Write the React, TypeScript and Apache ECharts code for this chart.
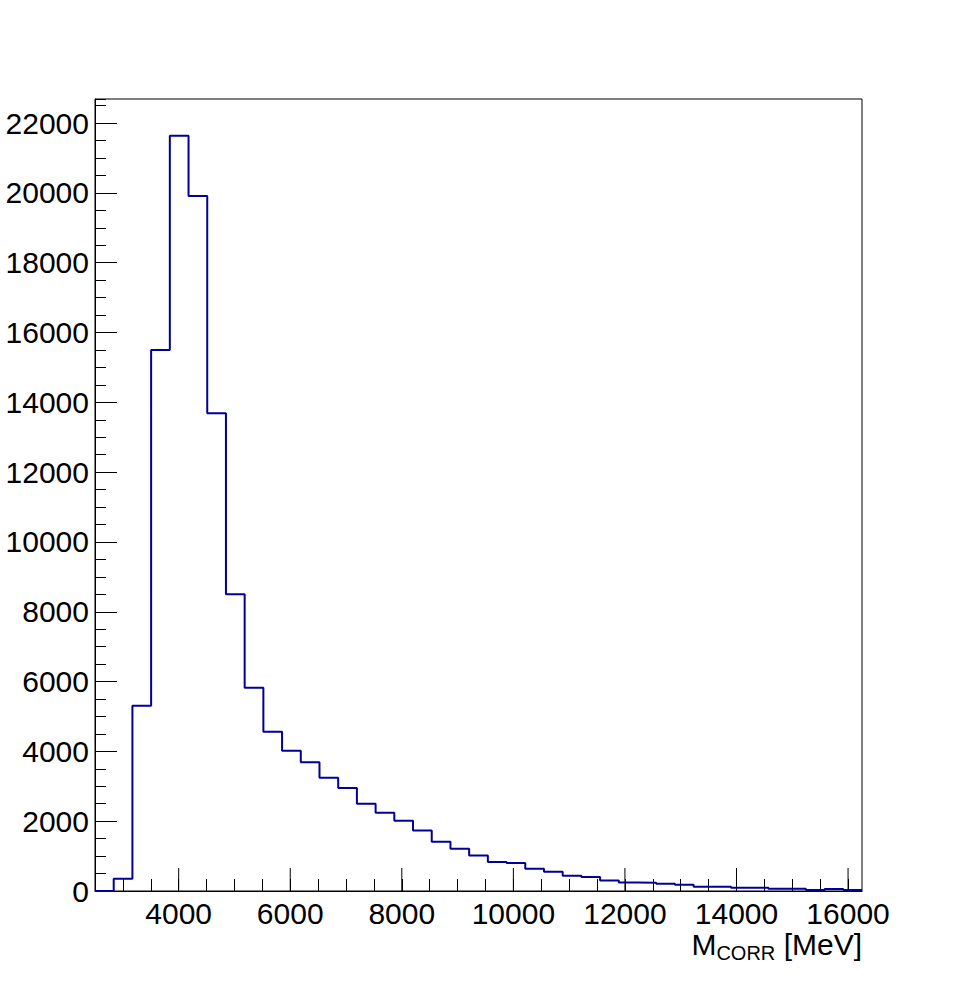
import React, { useEffect, useRef } from "react";
import * as echarts from "echarts";

// Histogram binning (MeV)
const binMin = 2500;
const binMax = 16250;
const binCounts = [
  0, 350, 5310, 15500, 21640, 19910, 13690, 8500, 5820, 4560,
  4015, 3690, 3245, 2950, 2500, 2245, 2015, 1730, 1410, 1210,
  1015, 830, 800, 640, 550, 440, 400, 300, 240, 235,
  210, 180, 125, 120, 95, 92, 66, 64, 30, 57,
  30,
];
const xMajorTicks = [4000, 6000, 8000, 10000, 12000, 14000, 16000];
const yMax = 22690;
const titleMain = "M";
const titleSub = "CORR";
const titleUnit = " [MeV]";

const FONT = "'Liberation Sans', Arial, Helvetica, sans-serif";

function measure(text: string, size: number): number {
  const c = document.createElement("canvas");
  const ctx = c.getContext("2d");
  if (!ctx) return text.length * size * 0.6;
  ctx.font = `${size}px ${FONT}`;
  return ctx.measureText(text).width;
}

export default function App() {
  const ref = useRef<HTMLDivElement>(null);

  useEffect(() => {
    if (!ref.current) return;
    const chart = echarts.init(ref.current, null, { renderer: "svg" });

    const nb = binCounts.length;
    const w = (binMax - binMin) / nb;
    const pts: number[][] = [];
    binCounts.forEach((v, i) => {
      pts.push([binMin + i * w, v]);
      pts.push([binMin + (i + 1) * w, v]);
    });

    const mainSize = 30;
    const subSize = 20;
    const right = 862;
    const wUnit = measure(titleUnit, mainSize);
    const wSub = measure(titleSub, subSize);
    const xUnit = right - wUnit;
    const xSub = xUnit - wSub;

    chart.setOption({
      animation: false,
      backgroundColor: "#ffffff",
      grid: {
        left: 95,
        right: 96,
        top: 99,
        bottom: 100,
        show: true,
        borderColor: "#000",
        borderWidth: 1,
        backgroundColor: "transparent",
      },
      xAxis: [
        {
          type: "value",
          min: binMin,
          max: binMax,
          interval: 500,
          axisLine: { show: true, onZero: false, lineStyle: { color: "#000", width: 1 } },
          axisTick: { show: true, inside: true, length: 12, lineStyle: { color: "#000", width: 1 } },
          splitLine: { show: false },
          axisLabel: {
            show: true,
            margin: 7,
            fontSize: 30,
            color: "#000",
            fontFamily: FONT,
            showMinLabel: false,
            showMaxLabel: false,
            formatter: (v: number) =>
              Math.abs(v % 2000) < 1e-6 && v >= 4000 ? String(Math.round(v)) : "",
          },
        },
      ],
      yAxis: [
        {
          type: "value",
          min: 0,
          max: yMax,
          interval: 2000,
          position: "left",
          axisLine: { show: true, lineStyle: { color: "#000", width: 1 } },
          axisTick: { show: true, inside: true, length: 22, lineStyle: { color: "#000", width: 1 } },
          splitLine: { show: false },
          axisLabel: {
            show: true,
            margin: 6,
            fontSize: 30,
            color: "#000",
            fontFamily: FONT,
            showMaxLabel: false,
            formatter: (v: number) =>
              Math.abs(v % 2000) < 1e-6 ? String(Math.round(v)) : "",
          },
        },
        {
          type: "value",
          min: 0,
          max: yMax,
          interval: 500,
          position: "left",
          axisLine: { show: false },
          axisTick: { show: true, inside: true, length: 11, lineStyle: { color: "#000", width: 1 } },
          splitLine: { show: false },
          axisLabel: { show: false },
        },
      ],
      series: [
        {
          type: "custom",
          xAxisIndex: 0,
          yAxisIndex: 0,
          silent: true,
          data: xMajorTicks.map((t) => [t, 0]),
          renderItem: (params: any, api: any) => {
            const p = api.coord([api.value(0), 0]);
            return {
              type: "line",
              shape: { x1: p[0], y1: p[1], x2: p[0], y2: p[1] - 23 },
              style: { stroke: "#000", lineWidth: 1 },
            };
          },
        },
        {
          type: "line",
          xAxisIndex: 0,
          yAxisIndex: 0,
          data: pts,
          showSymbol: false,
          symbol: "none",
          lineStyle: { color: "#000099", width: 2 },
          silent: true,
        },
      ],
      graphic: [
        {
          type: "text",
          x: right,
          y: 944,
          style: {
            text: titleUnit,
            align: "right",
            verticalAlign: "middle",
            fontSize: mainSize,
            fontFamily: FONT,
            fill: "#000",
          },
        },
        {
          type: "text",
          x: xUnit,
          y: 953,
          style: {
            text: titleSub,
            align: "right",
            verticalAlign: "middle",
            fontSize: subSize,
            fontFamily: FONT,
            fill: "#000",
          },
        },
        {
          type: "text",
          x: xSub,
          y: 944,
          style: {
            text: titleMain,
            align: "right",
            verticalAlign: "middle",
            fontSize: mainSize,
            fontFamily: FONT,
            fill: "#000",
          },
        },
      ],
    });

    return () => chart.dispose();
  }, []);

  return (
    <div
      ref={ref}
      style={{ position: "absolute", left: 0, top: 0, width: 958, height: 991, background: "#fff" }}
    />
  );
}
